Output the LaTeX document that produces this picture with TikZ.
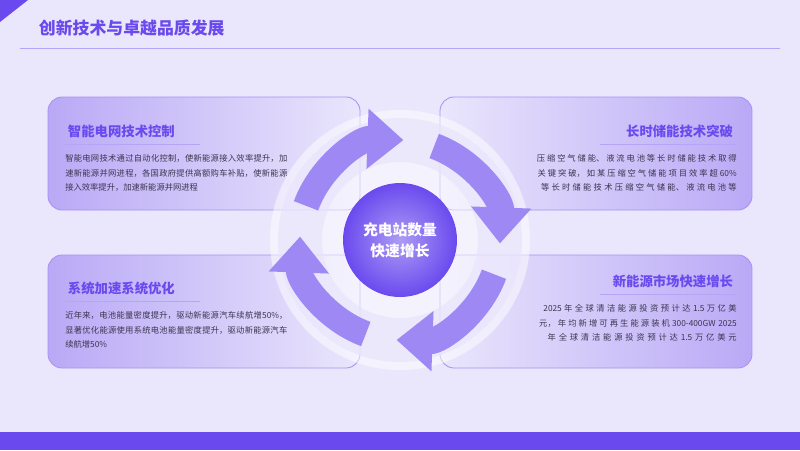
\documentclass[tikz,border=0pt]{standalone}
\usepackage{fontspec}
\setmainfont{Noto Sans CJK SC}
\XeTeXlinebreaklocale "zh"
\XeTeXlinebreakskip=0pt plus 1pt
\usetikzlibrary{arrows.meta,positioning}
\definecolor{bgpurple}{HTML}{EAE6FC}
\definecolor{mainpurple}{HTML}{6A4AEE}
\definecolor{cardpurple}{HTML}{B9A9F6}
\definecolor{textgrey}{HTML}{3C3550}
\begin{document}
\begin{tikzpicture}[x=0.025cm, y=-0.025cm,
    cardbox/.style={draw=mainpurple!60, rounded corners=10pt, line width=0.6pt},
    cardtitle/.style={font=\fontsize{9.5}{11}\selectfont\bfseries, text=mainpurple},
    cardbody/.style={font=\fontsize{5.9}{10.5}\selectfont, text=textgrey, text width=5.55cm, inner sep=0pt},
    ringarrow/.style={line width=0.65cm, draw=mainpurple!65, -{Triangle[width=1.45cm, length=0.9cm]}}
]
% Background
\fill[bgpurple] (0,0) rectangle (800,450);
\useasboundingbox (0,0) rectangle (800,450);
\fill[mainpurple] (0,0) -- (28,0) -- (0,22) -- cycle;
\fill[mainpurple] (0,432) rectangle (800,450);

% Title
\node[anchor=west, font=\fontsize{12}{14}\selectfont\bfseries, text=mainpurple] (title) at (34,28) {创新技术与卓越品质发展};
\draw[mainpurple!50, line width=0.5pt] (20,48) -- (780,48);

% Cards
\shade[cardbox, left color=cardpurple, right color=bgpurple] (48,97) rectangle (360,210);
\shade[cardbox, left color=cardpurple, right color=bgpurple] (48,255) rectangle (360,368);
\shade[cardbox, right color=cardpurple, left color=bgpurple] (440,97) rectangle (752,210);
\shade[cardbox, right color=cardpurple, left color=bgpurple] (440,255) rectangle (752,368);

% Card texts
\node[cardtitle, anchor=west] (t1) at (63,131) {智能电网技术控制};
\draw[mainpurple!50] (65,144) -- (200,144);
\node[cardbody, anchor=north west, align=justify] (b1) at (65,154) {智能电网技术通过自动化控制，使新能源接入效率提升，加速新能源并网进程，各国政府提供高额购车补贴，使新能源接入效率提升，加速新能源并网进程};

\node[cardtitle, anchor=west] (t2) at (63,288) {系统加速系统优化};
\draw[mainpurple!50] (65,301) -- (200,301);
\node[cardbody, anchor=north west, align=justify] (b2) at (65,311) {近年来，电池能量密度提升，驱动新能源汽车续航增50\%，显著优化能源使用系统电池能量密度提升，驱动新能源汽车续航增50\%};

\node[cardtitle, anchor=east] (t3) at (738,131) {长时储能技术突破};
\draw[mainpurple!50] (600,144) -- (737,144);
\node[cardbody, anchor=north east, align=right] (b3) at (737,154) {压缩空气储能、液流电池等长时储能技术取得关键突破，如某压缩空气储能项目效率超60\%等长时储能技术压缩空气储能、液流电池等};

\node[cardtitle, anchor=east] (t4) at (738,281) {新能源市场快速增长};
\draw[mainpurple!50] (600,294) -- (737,294);
\node[cardbody, anchor=north east, align=right] (b4) at (737,304) {2025年全球清洁能源投资预计达1.5万亿美元，年均新增可再生能源装机300-400GW 2025年全球清洁能源投资预计达1.5万亿美元};

% Ring
\fill[white, opacity=0.5] (400,240) circle (130);
\fill[bgpurple!70!mainpurple!40, opacity=0.6, even odd rule] (400,240) circle (122) (400,240) circle (78);
\draw[ringarrow] (400,240) ++(-160:100) arc (-160:-88:100);
\draw[ringarrow] (400,240) ++(-70:100) arc (-70:2:100);
\draw[ringarrow] (400,240) ++(20:100) arc (20:92:100);
\draw[ringarrow] (400,240) ++(110:100) arc (110:182:100);

% Center
\shade[inner color=mainpurple!55, outer color=mainpurple] (400,240) circle (57);
\node[font=\fontsize{10.5}{15}\selectfont\bfseries, text=white, align=center] (hub) at (400,240) {充电站数量\\快速增长};
\end{tikzpicture}
\end{document}
